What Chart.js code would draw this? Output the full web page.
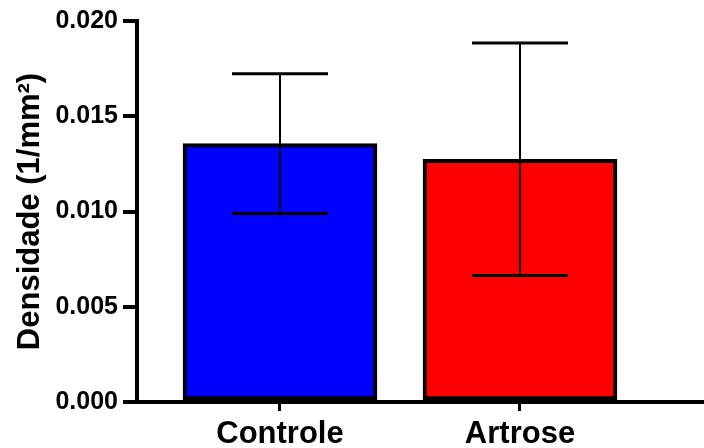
<!DOCTYPE html>
<html>
<head>
<meta charset="utf-8">
<script src="https://cdn.jsdelivr.net/npm/chart.js@4"></script>
<style>
  html, body { margin: 0; padding: 0; background: #fff; }
  #wrap { width: 704px; height: 448px; }
</style>
</head>
<body>
<div id="wrap"><canvas id="chart" width="704" height="448"></canvas></div>
<script>
// --- data --- //
const categories = ['Controle', 'Artrose'];
const means = [0.01356, 0.01274];
const sds = [0.00367, 0.00610];
const barColors = ['#0000FF', '#FF0000'];
const yTicks = [0, 0.005, 0.010, 0.015, 0.020];

const FONT = "'Liberation Sans', Arial, Helvetica, sans-serif";

// error bars drawn over the bars, using the y scale
const errorBars = {
    id: 'errorBars',
    afterDatasetsDraw(chart) {
        const { ctx, scales: { y } } = chart;
        const meta = chart.getDatasetMeta(0);
        ctx.save();
        ctx.strokeStyle = '#000';
        meta.data.forEach((bar, i) => {
            const top = y.getPixelForValue(means[i] + sds[i]);
            const bottom = y.getPixelForValue(means[i] - sds[i]);
            const half = 48;
            ctx.lineWidth = 2;
            ctx.beginPath();
            ctx.moveTo(bar.x, top);
            ctx.lineTo(bar.x, bottom);
            ctx.stroke();
            ctx.lineWidth = 3;
            ctx.beginPath();
            ctx.moveTo(bar.x - half, top);
            ctx.lineTo(bar.x + half, top);
            ctx.moveTo(bar.x - half, bottom);
            ctx.lineTo(bar.x + half, bottom);
            ctx.stroke();
        });
        ctx.restore();
    }
};

new Chart(document.getElementById('chart'), {
    type: 'bar',
    data: {
        datasets: [{
            data: means.map((m, i) => ({ x: i + 1, y: m })),
            backgroundColor: barColors,
            borderColor: '#000',
            borderWidth: 4,
            borderSkipped: false,
            barThickness: 194
        }]
    },
    options: {
        responsive: false,
        animation: false,
        layout: { padding: { top: 21, right: 0, left: 0, bottom: 0 } },
        plugins: { legend: { display: false }, tooltip: { enabled: false } },
        scales: {
            x: {
                type: 'linear',
                offset: false,
                min: 0.4042,
                max: 2.7667,
                afterBuildTicks: (s) => { s.ticks = categories.map((c, i) => ({ value: i + 1 })); },
                afterFit: (s) => { s.height = 46; },
                ticks: {
                    callback: (v) => categories[v - 1],
                    color: '#000',
                    font: { family: FONT, size: 31, weight: 'bold' },
                    padding: 5,
                    maxRotation: 0
                },
                grid: { offset: false, drawOnChartArea: false, color: '#000', lineWidth: 3, tickLength: 9 },
                border: { color: '#000', width: 4 }
            },
            y: {
                min: 0,
                max: 0.02,
                afterBuildTicks: (s) => { s.ticks = yTicks.map(v => ({ value: v })); },
                afterFit: (s) => { s.width = 137; },
                ticks: {
                    callback: (v) => v.toFixed(3),
                    color: '#000',
                    font: { family: FONT, size: 25, weight: 'bold' },
                    padding: 5
                },
                grid: { drawOnChartArea: false, color: '#000', lineWidth: 4, tickLength: 14 },
                border: { color: '#000', width: 4 },
                title: {
                    display: true,
                    text: 'Densidade (1/mm²)',
                    color: '#000',
                    font: { family: FONT, size: 31, weight: 'bold' },
                    padding: { top: 12, bottom: 8 }
                }
            }
        }
    },
    plugins: [errorBars]
});
</script>
</body>
</html>
